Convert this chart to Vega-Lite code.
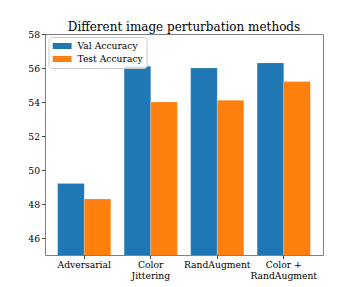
{
  "$schema": "https://vega.github.io/schema/vega-lite/v6.json",
  "width": 278,
  "height": 221,
  "autosize": "none",
  "padding": {"left": 45, "top": 34, "right": 36, "bottom": 32},
  "background": "white",
  "title": {"text": "Different image perturbation methods", "font": "DejaVu Serif", "fontSize": 12, "fontWeight": "normal", "color": "black", "offset": -4, "anchor": "middle"},
  "data": {"values": [
    {"method": "Adversarial", "series": "Val Accuracy", "acc": 49.2},
    {"method": "Adversarial", "series": "Test Accuracy", "acc": 48.3},
    {"method": "Color Jittering", "series": "Val Accuracy", "acc": 56.1},
    {"method": "Color Jittering", "series": "Test Accuracy", "acc": 54.0},
    {"method": "RandAugment", "series": "Val Accuracy", "acc": 56.0},
    {"method": "RandAugment", "series": "Test Accuracy", "acc": 54.1},
    {"method": "Color + RandAugment", "series": "Val Accuracy", "acc": 56.3},
    {"method": "Color + RandAugment", "series": "Test Accuracy", "acc": 55.2}
  ]},
  "mark": {"type": "bar", "clip": true, "stroke": "white", "strokeOpacity": 0.4, "strokeWidth": 0.5},
  "encoding": {
    "x": {"field": "method", "type": "nominal", "sort": null,
      "scale": {"paddingInner": 0.2, "paddingOuter": 0.19},
      "axis": {"title": null, "labelAngle": 0, "labelFont": "DejaVu Serif", "labelFontSize": 9.2, "labelColor": "black",
        "labelExpr": "datum.value == 'Color Jittering' ? ['Color', 'Jittering'] : datum.value == 'Color + RandAugment' ? ['Color +', 'RandAugment'] : datum.value",
        "domain": false, "tickColor": "#444", "tickSize": 3.5, "labelPadding": 2, "labelLineHeight": 11}},
    "xOffset": {"field": "series", "type": "nominal", "sort": ["Val Accuracy", "Test Accuracy"], "scale": {"paddingInner": 0, "paddingOuter": 0}},
    "y": {"field": "acc", "type": "quantitative",
      "scale": {"domain": [45, 58], "nice": false, "zero": false},
      "axis": {"title": null, "values": [46, 48, 50, 52, 54, 56, 58], "grid": false, "domain": false, "labelFont": "DejaVu Serif", "labelFontSize": 9.2, "labelColor": "black", "tickColor": "#444", "tickSize": 3.5, "labelPadding": 2}},
    "color": {"field": "series", "type": "nominal", "sort": ["Val Accuracy", "Test Accuracy"],
      "scale": {"domain": ["Val Accuracy", "Test Accuracy"], "range": ["#1f77b4", "#ff7f0e"]},
      "legend": {"title": null, "orient": "none", "legendX": 3.5, "legendY": 3, "symbolType": "M-0.8,-0.5H2.35V0.5H-0.8Z", "symbolSize": 144, "symbolStrokeWidth": 0, "symbolOpacity": 1, "labelFont": "DejaVu Serif", "labelFontSize": 9.2, "labelColor": "black", "labelOffset": 14, "fillColor": "rgba(255,255,255,0.8)", "strokeColor": "#ccc", "cornerRadius": 3, "padding": 3, "rowPadding": 1}}
  },
  "config": {"view": {"stroke": "#808080", "strokeWidth": 1}}
}
